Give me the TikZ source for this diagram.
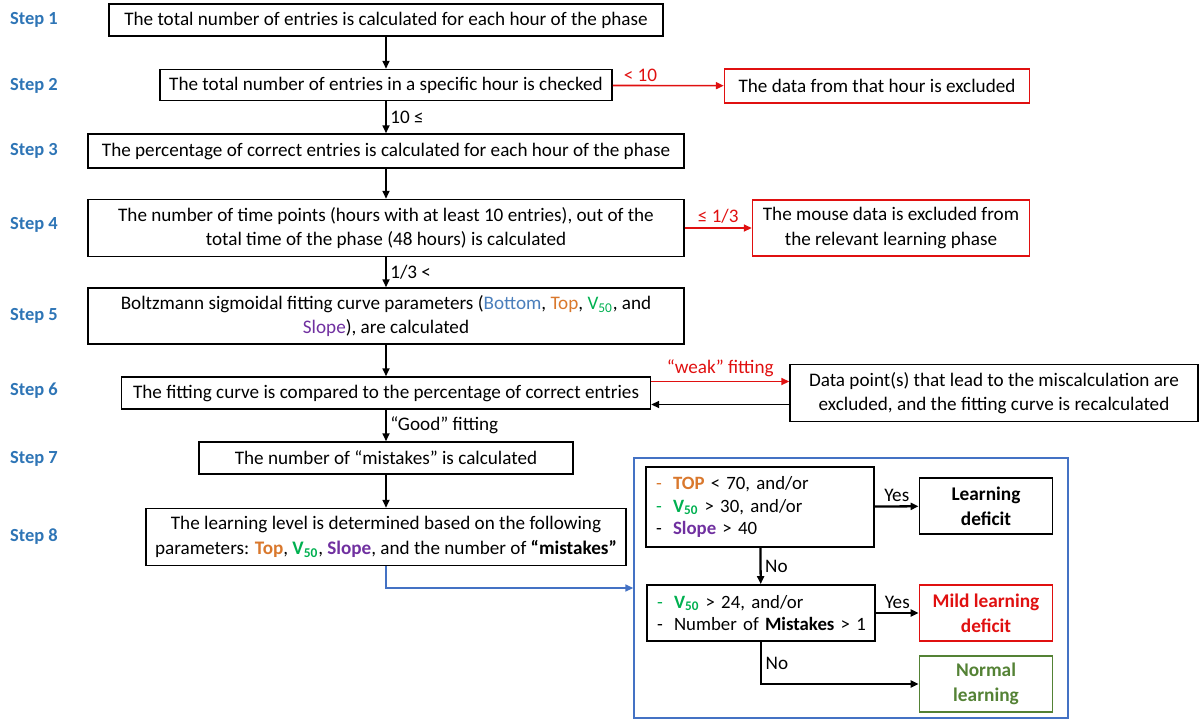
\documentclass[tikz,border=0pt]{standalone}
\usepackage{fontspec}
\setmainfont{Carlito}
\usetikzlibrary{arrows.meta,positioning}
\definecolor{stepblue}{HTML}{2E75B6}
\definecolor{botblue}{HTML}{4A7EBB}
\definecolor{toporange}{HTML}{D9782D}
\definecolor{vgreen}{HTML}{00B050}
\definecolor{slopepurple}{HTML}{7030A0}
\definecolor{exred}{HTML}{E01010}
\definecolor{normgreen}{HTML}{548235}
\definecolor{frameblue}{HTML}{4472C4}
\newcommand{\vfifty}{V\textsubscript{50}}
\newcommand{\citem}[2]{\mbox{\makebox[0.34cm][l]{\textcolor{#1}{-}}#2}}

\begin{document}
\begin{tikzpicture}[
    x=0.02cm, y=-0.02cm,
    >={Triangle[length=4.5pt,width=4pt]},
    box/.style={draw, line width=0.9pt, align=center, inner sep=1pt, font=\fontsize{10.9}{14}\selectfont},
    redbox/.style={box, draw=exred},
    steplabel/.style={font=\fontsize{10.5}{12}\selectfont\bfseries, text=stepblue},
    arrow/.style={->, line width=0.9pt},
    lbl/.style={font=\fontsize{10.9}{12}\selectfont, inner sep=2pt},
    condbox/.style={draw, line width=1.1pt, align=left, inner xsep=0.2cm, text width=4.16cm, font=\fontsize{10.7}{13}\selectfont},
    outbox/.style={draw, line width=1.1pt, align=center, minimum width=2.66cm, minimum height=1.12cm, font=\fontsize{11}{14}\selectfont\bfseries},
    bigarrow/.style={->, line width=1.3pt},
]
\useasboundingbox (0,0) rectangle (1200,724);

% ---- Step labels ----
\node[steplabel] (l1) at (34,20) {Step 1};
\node[steplabel] (l2) at (34,86) {Step 2};
\node[steplabel] (l3) at (34,151) {Step 3};
\node[steplabel] (l4) at (34,225) {Step 4};
\node[steplabel] (l5) at (34,316) {Step 5};
\node[steplabel] (l6) at (34,391) {Step 6};
\node[steplabel] (l7) at (34,459) {Step 7};
\node[steplabel] (l8) at (34,537) {Step 8};

% ---- Main steps ----
\node[box, minimum width=11.08cm, minimum height=0.64cm] (s1) at (386,20) {The total number of entries is calculated for each hour of the phase};
\node[box, minimum width=9.04cm, minimum height=0.62cm] (s2) at (386,85) {The total number of entries in a specific hour is checked};
\node[box, minimum width=11.92cm, minimum height=0.68cm] (s3) at (386,151) {The percentage of correct entries is calculated for each hour of the phase};
\node[box, minimum width=11.92cm, minimum height=1.14cm] (s4) at (386,228) {The number of time points (hours with at least 10 entries), out of the\\total time of the phase (48 hours) is calculated};
\node[box, minimum width=11.92cm, minimum height=1.12cm] (s5) at (386,316) {Boltzmann sigmoidal fitting curve parameters (\textcolor{botblue}{Bottom}, \textcolor{toporange}{Top}, \textcolor{vgreen}{\vfifty}, and\\\textcolor{slopepurple}{Slope}), are calculated};
\node[box, minimum width=10.58cm, minimum height=0.64cm] (s6) at (386,393) {The fitting curve is compared to the percentage of correct entries};
\node[box, minimum width=7.48cm, minimum height=0.64cm] (s7) at (386,458) {The number of “mistakes” is calculated};
\node[box, minimum width=9.6cm, minimum height=1.14cm] (s8) at (386,537) {The learning level is determined based on the following\\parameters: \textbf{\textcolor{toporange}{Top}}, \textbf{\textcolor{vgreen}{\vfifty}}, \textbf{\textcolor{slopepurple}{Slope}}, and the number of \textbf{“mistakes”}};

% ---- Exclusions ----
\node[redbox, minimum width=6.1cm, minimum height=0.68cm] (ex1) at (877,86) {The data from that hour is excluded};
\node[redbox, minimum width=5.54cm, minimum height=1.12cm] (ex2) at (891,228) {The mouse data is excluded from\\the relevant learning phase};
\node[box, minimum width=8.16cm, minimum height=1.14cm] (refit) at (994,393) {Data point(s) that lead to the miscalculation are\\excluded, and the fitting curve is recalculated};

% ---- Learning level ----
\node[draw=frameblue, line width=0.9pt, minimum width=8.68cm, minimum height=5.2cm, inner sep=0pt] (frame) at (851,588) {};
\node[condbox, minimum height=1.6cm] (c1) at (760,507) {\citem{toporange}{\textbf{\textcolor{toporange}{TOP}} < 70, and/or}\\\citem{vgreen}{\textbf{\textcolor{vgreen}{\vfifty}} > 30, and/or}\\\citem{black}{\textbf{\textcolor{slopepurple}{Slope}} > 40}};
\node[condbox, minimum height=1.12cm] (c2) at (761,613) {\citem{vgreen}{\textbf{\textcolor{vgreen}{\vfifty}} > 24, and/or}\\\citem{black}{Number of \textbf{Mistakes} > 1}};
\node[outbox] (ld) at (986,506) {Learning\\deficit};
\node[outbox, draw=exred, text=exred] (mild) at (986,613) {Mild learning\\deficit};
\node[outbox, draw=normgreen, text=normgreen] (normal) at (986,684) {Normal\\learning};

% ---- Arrows ----
\draw[arrow] (s1) -- (s2);
\draw[arrow] (s2) -- node[lbl, right] {10 ≤} (s3);
\draw[arrow] (s3) -- (s4);
\draw[arrow] (s4) -- node[lbl, right] {1/3 <} (s5);
\draw[arrow] (s5) -- (s6);
\draw[arrow] (s6) -- node[lbl, right] {“Good” fitting} (s7);
\draw[arrow] (s7) -- (s8);
\draw[arrow, exred] (s2) -- node[lbl, above, pos=0.25, text=exred] {< 10} (ex1);
\draw[arrow, exred] (s4.east |- ex2) -- node[lbl, above, text=exred] {≤ 1/3} (ex2);
\draw[arrow, exred] ([yshift=0.23cm]s6.east) -- node[lbl, above, text=exred] {“weak” fitting} ([yshift=0.23cm]refit.west);
\draw[arrow] ([yshift=-0.23cm]refit.west) -- ([yshift=-0.23cm]s6.east);
\draw[arrow, frameblue, line width=0.8pt] (s8.south) |- (frame.west);

\draw[bigarrow] (c1) -- node[lbl, above] {Yes} (ld);
\draw[bigarrow] (c1) -- node[lbl, right] {No} (c2);
\draw[bigarrow] (c2) -- node[lbl, above] {Yes} (mild);
\draw[bigarrow] (c2.south) |- node[lbl, right, pos=0.25] {No} (normal.west);

\end{tikzpicture}
\end{document}
